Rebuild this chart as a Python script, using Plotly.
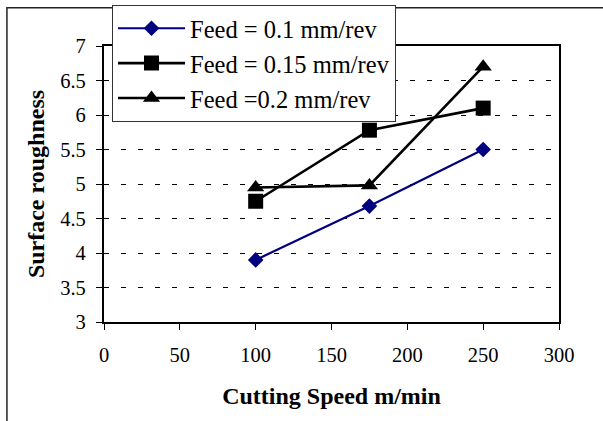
import plotly.graph_objects as go

speed = [100, 175, 250]
feed_01 = [3.9, 4.68, 5.5]
feed_015 = [4.75, 5.78, 6.1]
feed_02 = [4.95, 4.98, 6.7]
names = ["Feed = 0.1 mm/rev", "Feed = 0.15 mm/rev", "Feed =0.2 mm/rev"]
x_ticks = [0, 50, 100, 150, 200, 250, 300]
y_ticks = [3, 3.5, 4, 4.5, 5, 5.5, 6, 6.5, 7]
y_labels = ["3", "3.5", "4", "4.5", "5", "5.5", "6", "6.5", "7"]

W, H = 603, 421
L, R, T, B = 104.3, 603 - 559, 45.7, 421 - 322
pw, ph = W - L - R, H - T - B

def px(x):
    return (x - L) / pw

def py(y):
    return 1 + (T - y) / ph

fig = go.Figure()
fig.add_trace(go.Scatter(x=speed, y=feed_01, name=names[0], mode="lines+markers",
                         line=dict(color="#000080", width=2.2),
                         marker=dict(symbol="diamond", size=12, color="#000080")))
fig.add_trace(go.Scatter(x=speed, y=feed_015, name=names[1], mode="lines+markers",
                         line=dict(color="black", width=2.6),
                         marker=dict(symbol="square", size=15, color="black")))
fig.add_trace(go.Scatter(x=speed, y=feed_02, name=names[2], mode="lines+markers",
                         line=dict(color="black", width=2.6),
                         marker=dict(symbol="triangle-up", size=15, color="black")))

font = "Liberation Serif, Times New Roman, serif"

fig.update_layout(
    width=W, height=H,
    margin=dict(l=L, r=R, t=T, b=B, autoexpand=False),
    paper_bgcolor="white", plot_bgcolor="white",
    font=dict(family=font, color="black", size=20),
    showlegend=True,
    legend=dict(x=px(112.3), y=py(4.5), xanchor="left", yanchor="top",
                bgcolor="white", bordercolor="#333", borderwidth=1,
                font=dict(family=font, size=24.5, color="black"),
                itemwidth=67, entrywidth=301, tracegroupgap=0),
    xaxis=dict(range=[0, 300], tickvals=x_ticks, ticks="outside", ticklen=6,
               tickcolor="black", showline=True, linecolor="black", linewidth=2.2,
               mirror=True, showgrid=False, zeroline=False,
               tickfont=dict(size=20.5), ticklabelstandoff=7,
               title=dict(text="<b>Cutting Speed m/min</b>", font=dict(size=24), standoff=22)),
    yaxis=dict(range=[3, 7], tickvals=y_ticks, ticktext=y_labels, ticks="outside",
               ticklen=6, tickcolor="black", showline=True, linecolor="black",
               linewidth=2.2, mirror=True, showgrid=True, gridcolor="black",
               gridwidth=1, griddash="5px,12px", zeroline=False,
               tickfont=dict(size=20.5), ticklabelstandoff=6,
               title=dict(text="<b>Surface roughness</b>", font=dict(size=24), standoff=9)),
    shapes=[dict(type="rect", xref="paper", yref="paper",
                 x0=px(7.3), x1=px(700), y0=py(700), y1=py(7.3),
                 line=dict(color="#222", width=1.5), layer="below")],
)

fig.write_html("out.html")
